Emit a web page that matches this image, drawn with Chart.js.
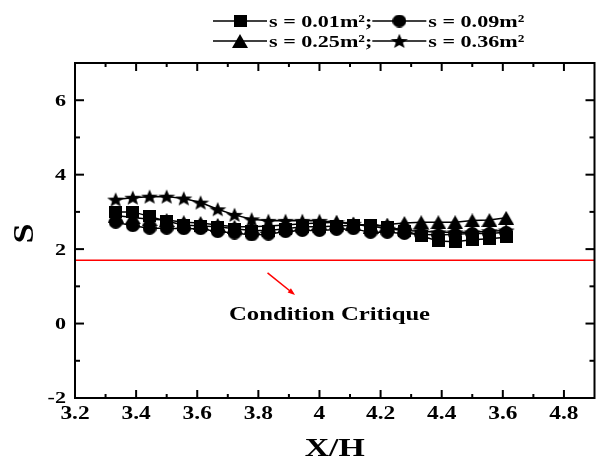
<!DOCTYPE html>
<html>
<head>
<meta charset="utf-8">
<script src="https://cdn.jsdelivr.net/npm/chart.js@4"></script>
<style>
  html, body { margin: 0; padding: 0; background: #fff; }
  #wrap { width: 602px; height: 466px; }
</style>
</head>
<body>
<div id="wrap"><canvas id="chart" width="602" height="466"></canvas></div>
<script>
// X/H positions shared by all series
const xValues = [3.333, 3.389, 3.444, 3.5, 3.556, 3.611, 3.667, 3.722, 3.778, 3.833, 3.889, 3.944,
  4.0, 4.056, 4.111, 4.167, 4.222, 4.278, 4.333, 4.389, 4.444, 4.5, 4.556, 4.611];

// S values
const s001 = [3.0, 3.0, 2.88, 2.75, 2.65, 2.62, 2.6, 2.55, 2.5, 2.5, 2.55, 2.6,
  2.6, 2.62, 2.64, 2.66, 2.6, 2.5, 2.35, 2.22, 2.2, 2.25, 2.28, 2.32];
const s009 = [2.72, 2.63, 2.56, 2.56, 2.55, 2.55, 2.47, 2.43, 2.38, 2.4, 2.47, 2.5,
  2.5, 2.53, 2.55, 2.45, 2.45, 2.42, 2.4, 2.38, 2.4, 2.42, 2.42, 2.45];
const s025 = [2.9, 2.85, 2.8, 2.78, 2.72, 2.7, 2.65, 2.6, 2.6, 2.62, 2.65, 2.68,
  2.7, 2.72, 2.68, 2.6, 2.66, 2.7, 2.72, 2.72, 2.72, 2.77, 2.78, 2.84];
const s036 = [3.33, 3.38, 3.41, 3.41, 3.36, 3.25, 3.07, 2.92, 2.8, 2.76, 2.76, 2.76,
  2.76, 2.72, 2.68, 2.62, 2.55, 2.5, 2.48, 2.45, 2.45, 2.45, 2.48, 2.5];

const seriesLabels = ["s = 0.01m\u00b2", "s = 0.09m\u00b2", "s = 0.25m\u00b2", "s = 0.36m\u00b2"];

const criticalValue = 1.7;
const criticalLabel = "Condition Critique";
const xTitle = "X/H";
const yTitle = "S";

const xTicks = [3.2, 3.4, 3.6, 3.8, 4.0, 4.2, 4.4, 4.6, 4.8];
const xTickLabels = ["3.2", "3.4", "3.6", "3.8", "4", "4.2", "4.4", "3.6", "4.8"];
const xMinorTicks = [3.3, 3.5, 3.7, 3.9, 4.1, 4.3, 4.5, 4.7];
const yTicks = [-2, 0, 2, 4, 6];
const yTickLabels = ["-2", "0", "2", "4", "6"];
const yMinorTicks = [-1, 1, 3, 5];

const textStretch = 1.3;
const serif = '"Liberation Serif", "Times New Roman", serif';

// marker images (slightly wide, like the picture)
function makeMarker(w, h, draw) {
  const c = document.createElement("canvas");
  c.width = w;
  c.height = h;
  const g = c.getContext("2d");
  g.fillStyle = "#000";
  draw(g, w, h);
  return c;
}

const squareImg = makeMarker(13, 12, (g, w, h) => g.fillRect(0, 0, w, h));
const circleImg = makeMarker(14, 13, (g, w, h) => {
  g.beginPath();
  g.ellipse(w / 2, h / 2, w / 2, h / 2, 0, 0, Math.PI * 2);
  g.fill();
});
const triangleImg = makeMarker(16, 14, (g, w, h) => {
  g.beginPath();
  g.moveTo(w / 2, 0);
  g.lineTo(w, h);
  g.lineTo(0, h);
  g.closePath();
  g.fill();
});
const starImg = makeMarker(18, 16, (g, w, h) => {
  g.beginPath();
  for (let i = 0; i < 10; i++) {
    const r = i % 2 === 0 ? 1 : 0.42;
    const a = -Math.PI / 2 + (i * Math.PI) / 5;
    const px = w / 2 + (Math.cos(a) * r * w) / 2;
    const py = h * 0.54 + (Math.sin(a) * r * h) / 2;
    if (i === 0) g.moveTo(px, py);
    else g.lineTo(px, py);
  }
  g.closePath();
  g.fill();
});

const markerImgs = [squareImg, circleImg, triangleImg, starImg];
const seriesValues = [s001, s009, s025, s036];

function toPoints(ys) {
  return ys.map((y, i) => ({ x: xValues[i], y: y }));
}

function drawStretched(ctx, text, x, y, size, align, baseline) {
  ctx.save();
  ctx.font = `bold ${size}px ${serif}`;
  ctx.textAlign = align;
  ctx.textBaseline = baseline;
  ctx.translate(x, y);
  ctx.scale(textStretch, 1);
  ctx.fillText(text, 0, 0);
  ctx.restore();
}

function measureStretched(ctx, text, size) {
  ctx.save();
  ctx.font = `bold ${size}px ${serif}`;
  const w = ctx.measureText(text).width * textStretch;
  ctx.restore();
  return w;
}

// frame, inward ticks, labels, legend, annotation
const decorPlugin = {
  id: "decor",
  afterDraw(chart) {
    const ctx = chart.ctx;
    const a = chart.chartArea;
    const xs = chart.scales.x;
    const ys = chart.scales.y;
    ctx.save();
    ctx.strokeStyle = "#000";
    ctx.fillStyle = "#000";
    ctx.lineWidth = 2;
    ctx.strokeRect(a.left, a.top, a.right - a.left, a.bottom - a.top);

    // ticks
    const tick = (x1, y1, x2, y2) => {
      ctx.beginPath();
      ctx.moveTo(x1, y1);
      ctx.lineTo(x2, y2);
      ctx.stroke();
    };
    xTicks.forEach((v) => {
      const px = xs.getPixelForValue(v);
      tick(px, a.bottom, px, a.bottom - 8);
      tick(px, a.top, px, a.top + 8);
    });
    xMinorTicks.forEach((v) => {
      const px = xs.getPixelForValue(v);
      tick(px, a.bottom, px, a.bottom - 4);
      tick(px, a.top, px, a.top + 4);
    });
    yTicks.forEach((v) => {
      const py = ys.getPixelForValue(v);
      tick(a.left, py, a.left + 9, py);
      tick(a.right, py, a.right - 9, py);
    });
    yMinorTicks.forEach((v) => {
      const py = ys.getPixelForValue(v);
      tick(a.left, py, a.left + 5, py);
      tick(a.right, py, a.right - 5, py);
    });

    // tick labels
    xTicks.forEach((v, i) => {
      drawStretched(ctx, xTickLabels[i], xs.getPixelForValue(v), a.bottom + 7, 18, "center", "top");
    });
    yTicks.forEach((v, i) => {
      drawStretched(ctx, yTickLabels[i], a.left - 9, ys.getPixelForValue(v) + 1, 17, "right", "middle");
    });

    // axis titles
    drawStretched(ctx, xTitle, (a.left + a.right) / 2 + 0, 456, 26, "center", "alphabetic");
    ctx.save();
    ctx.translate(33, (a.top + a.bottom) / 2 + 3);
    ctx.rotate(-Math.PI / 2);
    ctx.font = `bold 30px ${serif}`;
    ctx.textAlign = "center";
    ctx.textBaseline = "alphabetic";
    ctx.scale(1.2, 1);
    ctx.fillText(yTitle, 0, 0);
    ctx.restore();

    // annotation arrow + text
    const ax1 = xs.getPixelForValue(3.83), ay1 = ys.getPixelForValue(1.36);
    const ax2 = xs.getPixelForValue(3.915), ay2 = ys.getPixelForValue(0.8);
    ctx.strokeStyle = "#ff0000";
    ctx.fillStyle = "#ff0000";
    ctx.lineWidth = 1.5;
    tick(ax1, ay1, ax2, ay2);
    const ang = Math.atan2(ay2 - ay1, ax2 - ax1);
    ctx.beginPath();
    ctx.moveTo(ax2 + Math.cos(ang) * 2, ay2 + Math.sin(ang) * 2);
    ctx.lineTo(ax2 - Math.cos(ang - 0.45) * 6, ay2 - Math.sin(ang - 0.45) * 6);
    ctx.lineTo(ax2 - Math.cos(ang + 0.45) * 6, ay2 - Math.sin(ang + 0.45) * 6);
    ctx.closePath();
    ctx.fill();
    ctx.fillStyle = "#000";
    drawStretched(ctx, criticalLabel, xs.getPixelForValue(4.033), ys.getPixelForValue(0.1), 19, "center", "alphabetic");

    // legend, two rows
    const rows = [[0, 1], [2, 3]];
    const rowY = [21, 41];
    ctx.strokeStyle = "#000";
    ctx.lineWidth = 1.5;
    rows.forEach((row, r) => {
      let x = 213;
      const y = rowY[r];
      row.forEach((di, k) => {
        tick(x, y, x + 54, y);
        const img = markerImgs[di];
        ctx.drawImage(img, x + 27 - img.width / 2, y - img.height / 2);
        x += 56;
        const label = seriesLabels[di] + (k === 0 ? ";" : "");
        drawStretched(ctx, label, x, y + 6, 17, "left", "alphabetic");
        x += measureStretched(ctx, label, 17);
      });
    });
    ctx.restore();
  },
};

const datasets = seriesValues.map((vals, i) => ({
  label: seriesLabels[i],
  data: toPoints(vals),
  borderColor: "#000",
  backgroundColor: "#000",
  borderWidth: 1.5,
  pointStyle: markerImgs[i],
  pointRadius: 6,
  tension: 0,
  order: 4 - i,
}));

datasets.push({
  label: criticalLabel,
  data: [{ x: 3.2, y: criticalValue }, { x: 4.9, y: criticalValue }],
  borderColor: "#ff0000",
  borderWidth: 1.5,
  pointRadius: 0,
  order: 10,
});

new Chart(document.getElementById("chart"), {
  type: "line",
  data: { datasets: datasets },
  options: {
    responsive: false,
    animation: false,
    events: [],
    layout: { padding: { left: 75, right: 1, top: 63, bottom: 68 } },
    plugins: { legend: { display: false }, tooltip: { enabled: false } },
    scales: {
      x: { type: "linear", min: 3.2, max: 4.9, display: false },
      y: { type: "linear", min: -2, max: 7, display: false },
    },
  },
  plugins: [decorPlugin],
});
</script>
</body>
</html>
